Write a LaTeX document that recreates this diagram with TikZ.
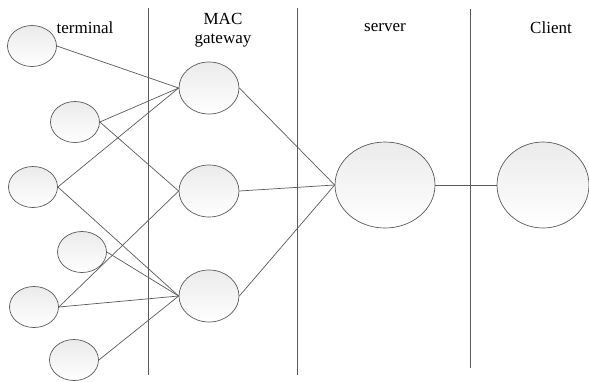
\documentclass[tikz,border=0pt]{standalone}
\usepackage{fontspec}
\setmainfont{Liberation Serif}
\usetikzlibrary{shapes.geometric}
\definecolor{linec}{HTML}{5A5A5A}
\tikzset{
  bub/.style={ellipse, draw=linec, line width=0.7pt, inner sep=0pt, top color=black!8, bottom color=white},
  term/.style={bub, minimum width=49pt, minimum height=41pt},
  gw/.style={bub, minimum width=60pt, minimum height=52pt},
  big/.style={bub, minimum width=100pt, minimum height=86pt},
  conn/.style={draw=linec, line width=0.7pt},
  sep/.style={draw=linec, line width=0.8pt},
  lab/.style={font=\fontsize{17}{19}\selectfont, inner sep=0pt, align=center}
}
\begin{document}
\begin{tikzpicture}[x=1pt, y=-1pt]
\useasboundingbox (0,0) rectangle (589,381);
% separators
\coordinate (s1t) at (148,8); \coordinate (s1b) at (148,375);
\coordinate (s2t) at (297,8); \coordinate (s2b) at (297,375);
\coordinate (s3t) at (470,9); \coordinate (s3b) at (470,368);
\draw[sep] (s1t) -- (s1b);
\draw[sep] (s2t) -- (s2b);
\draw[sep] (s3t) -- (s3b);
% labels
\node[lab] (lt) at (85,28) {terminal};
\node[lab] (lm) at (223,30) {MAC\\gateway};
\node[lab] (ls) at (385,28) {server};
\node[lab] (lc) at (551,28) {Client};
% terminals
\node[term] (t1) at (32,46) {};
\node[term] (t2) at (75,122) {};
\node[term] (t3) at (33,187) {};
\node[term] (t4) at (82,252) {};
\node[term] (t5) at (34,307) {};
\node[term] (t6) at (74,360) {};
% gateways
\node[gw] (g1) at (209,88) {};
\node[gw] (g2) at (209,191) {};
\node[gw] (g3) at (209,296) {};
% server, client
\node[big] (sv) at (385,185) {};
\node[big, minimum width=92pt] (cl) at (543,185) {};
% connectors
\draw[conn] (t1.east) -- (g1.west);
\draw[conn] (t2.east) -- (g1.west);
\draw[conn] (t3.east) -- (g1.west);
\draw[conn] (t2.east) -- (g2.west);
\draw[conn] (t5.east) -- (g2.west);
\draw[conn] (t3.east) -- (g3.west);
\draw[conn] (t4.east) -- (g3.west);
\draw[conn] (t5.east) -- (g3.west);
\draw[conn] (t6.east) -- (g3.west);
\draw[conn] (g1.east) -- (sv.west);
\draw[conn] (g2.east) -- (sv.west);
\draw[conn] (g3.east) -- (sv.west);
\draw[conn] (sv.east) -- (cl.west);
\end{tikzpicture}
\end{document}
